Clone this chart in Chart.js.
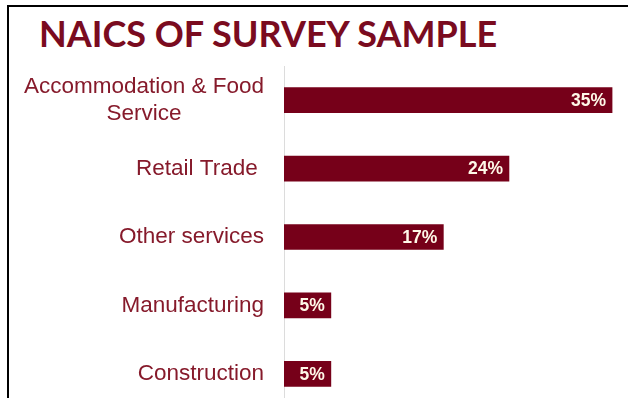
<!DOCTYPE html>
<html lang="en">
<head>
    <meta charset="UTF-8">
    <meta name="viewport" content="width=device-width, initial-scale=1.0">
    <title>NAICS of Survey Sample</title>
    <script src="https://cdn.jsdelivr.net/npm/chart.js"></script>
    <style>
        html, body { margin: 0; padding: 0; background: #fff; overflow: hidden; }
        body { width: 628px; height: 398px; position: relative; }
        .frame {
            position: absolute; left: 7px; top: 5px; right: 0; bottom: 0;
            border-left: 2px solid #000; border-top: 2px solid #000;
        }
        .title {
            position: absolute; left: 39px; top: 15px; margin: 0;
            font: bold 36px Lato, sans-serif; line-height: 36px;
            color: #7a0b20; white-space: nowrap;
        }
        .chart-box { position: absolute; left: 0; top: 60px; width: 628px; height: 348px; }
    </style>
</head>
<body>
    <div class="frame"></div>
    <h1 class="title">NAICS OF SURVEY SAMPLE</h1>
    <div class="chart-box">
        <canvas id="naicsChart"></canvas>
    </div>

    <script>
        const categories = [
            ['Accommodation & Food', 'Service'],
            'Retail Trade ',
            'Other services',
            'Manufacturing',
            'Construction'
        ];
        const shares = [35, 24, 17, 5, 5];

        const barColor = '#760019';
        const labelColor = '#861a2b';
        const labelFont = '22.5px "Liberation Sans", Arial, sans-serif';

        // category names, each line centred on the widest line, right edge at the axis gap
        const categoryLabels = {
            id: 'categoryLabels',
            afterDraw(chart) {
                const { ctx } = chart;
                const y = chart.scales.y;
                const lineHeight = 27;
                ctx.save();
                ctx.font = labelFont;
                ctx.fillStyle = labelColor;
                ctx.textAlign = 'center';
                ctx.textBaseline = 'middle';
                categories.forEach((label, i) => {
                    const lines = [].concat(label);
                    const widest = Math.max(...lines.map(l => ctx.measureText(l).width));
                    const cx = y.right - 20 - widest / 2;
                    const cy = y.getPixelForTick(i);
                    lines.forEach((line, j) => {
                        ctx.fillText(line, cx, cy + (j - (lines.length - 1) / 2) * lineHeight);
                    });
                });
                ctx.restore();
            }
        };

        // percentage printed inside the end of each bar
        const valueLabels = {
            id: 'valueLabels',
            afterDatasetsDraw(chart) {
                const { ctx } = chart;
                const meta = chart.getDatasetMeta(0);
                ctx.save();
                ctx.font = 'bold 17.5px "Liberation Sans", Arial, sans-serif';
                ctx.fillStyle = '#fff8e8';
                ctx.textAlign = 'right';
                ctx.textBaseline = 'middle';
                meta.data.forEach((bar, i) => {
                    ctx.fillText(shares[i] + '%', bar.x - 6, bar.y + 1);
                });
                ctx.restore();
            }
        };

        new Chart(document.getElementById('naicsChart'), {
            type: 'bar',
            data: {
                labels: categories,
                datasets: [{
                    data: shares,
                    backgroundColor: barColor,
                    barThickness: 25
                }]
            },
            options: {
                indexAxis: 'y',
                responsive: true,
                maintainAspectRatio: false,
                animation: false,
                devicePixelRatio: 1,
                layout: { padding: { top: 6, right: 0, bottom: 0, left: 0 } },
                plugins: {
                    legend: { display: false },
                    tooltip: { enabled: false }
                },
                scales: {
                    x: { min: 0, max: 36.7, display: false },
                    y: {
                        grid: { display: false },
                        border: { display: true, color: '#dcdcdc', width: 1 },
                        ticks: { display: false },
                        afterFit(scale) { scale.width = 284; }
                    }
                }
            },
            plugins: [categoryLabels, valueLabels]
        });
    </script>
</body>
</html>
